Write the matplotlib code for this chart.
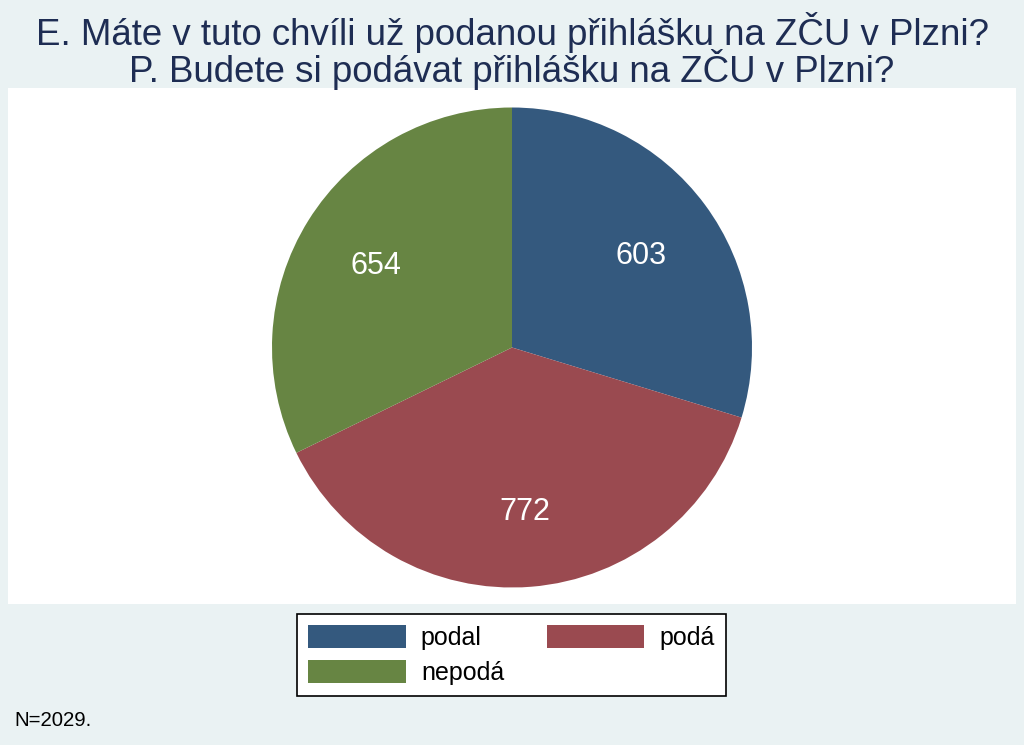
import matplotlib
matplotlib.use("Agg")
import matplotlib.pyplot as plt
from matplotlib.patches import Patch

# data
labels = ["podal", "podá", "nepodá"]
counts = [603, 772, 654]
colors = ["#34597E", "#9A4A50", "#678543"]
title = "E. Máte v tuto chvíli už podanou přihlášku na ZČU v Plzni?\nP. Budete si podávat přihlášku na ZČU v Plzni?"
note = "N=2029."

plt.rcParams["font.family"] = ["Liberation Sans", "DejaVu Sans"]

W, H = 1024, 745
fig = plt.figure(figsize=(W / 100, H / 100), dpi=100)
fig.patch.set_facecolor("#EAF2F3")

# plot region in pixels
x0, x1, y0, y1 = 8, 1016, 88, 604
ax = fig.add_axes([x0 / W, 1 - y1 / H, (x1 - x0) / W, (y1 - y0) / H])
wedges, texts = ax.pie(counts, colors=colors, startangle=90, counterclock=False,
                       labels=[str(c) for c in counts], labeldistance=0.67,
                       wedgeprops=dict(linewidth=0),
                       textprops=dict(color="white", fontsize=22))
r = 240
for t in texts:
    t.set_ha("center")
    t.set_va("center")
    tx, ty = t.get_position()
    t.set_position((tx, ty - 4 / r))
ax.set_aspect("auto")
ax.set_xlim(-(x1 - x0) / 2 / r, (x1 - x0) / 2 / r)
ax.set_ylim(-(y1 - y0) / 2 / r + 1.5 / r, (y1 - y0) / 2 / r + 1.5 / r)
ax.set_frame_on(True)
ax.set_facecolor("white")
for s in ax.spines.values():
    s.set_visible(False)
ax.set_xticks([])
ax.set_yticks([])

fig.text(0.5, 1 - 51 / H, title, ha="center", va="center", fontsize=26.4,
         color="#1E2D53", linespacing=0.88)

# matplotlib fills legend columns first, so reorder to get rows podal/podá, nepodá
order = [0, 2, 1]
handles = [Patch(facecolor=colors[i], edgecolor="none") for i in order]
leg = fig.legend(handles, [labels[i] for i in order], loc="center", ncol=2,
                 bbox_to_anchor=((295 + 728) / 2 / W, 1 - 655 / H),
                 frameon=True, fancybox=False, fontsize=18,
                 handlelength=3.9, handleheight=1.05, columnspacing=1.7,
                 handletextpad=0.6, borderpad=0.45, labelspacing=0.4,
                 borderaxespad=0)
leg.get_frame().set_edgecolor("black")
leg.get_frame().set_facecolor("white")
leg.get_frame().set_alpha(1)
leg.get_frame().set_linewidth(1.2)

fig.text(14 / W, 1 - 720 / H, note, ha="left", va="center", fontsize=14.7, color="black")

fig.savefig("out.png", dpi=100, facecolor=fig.get_facecolor())
